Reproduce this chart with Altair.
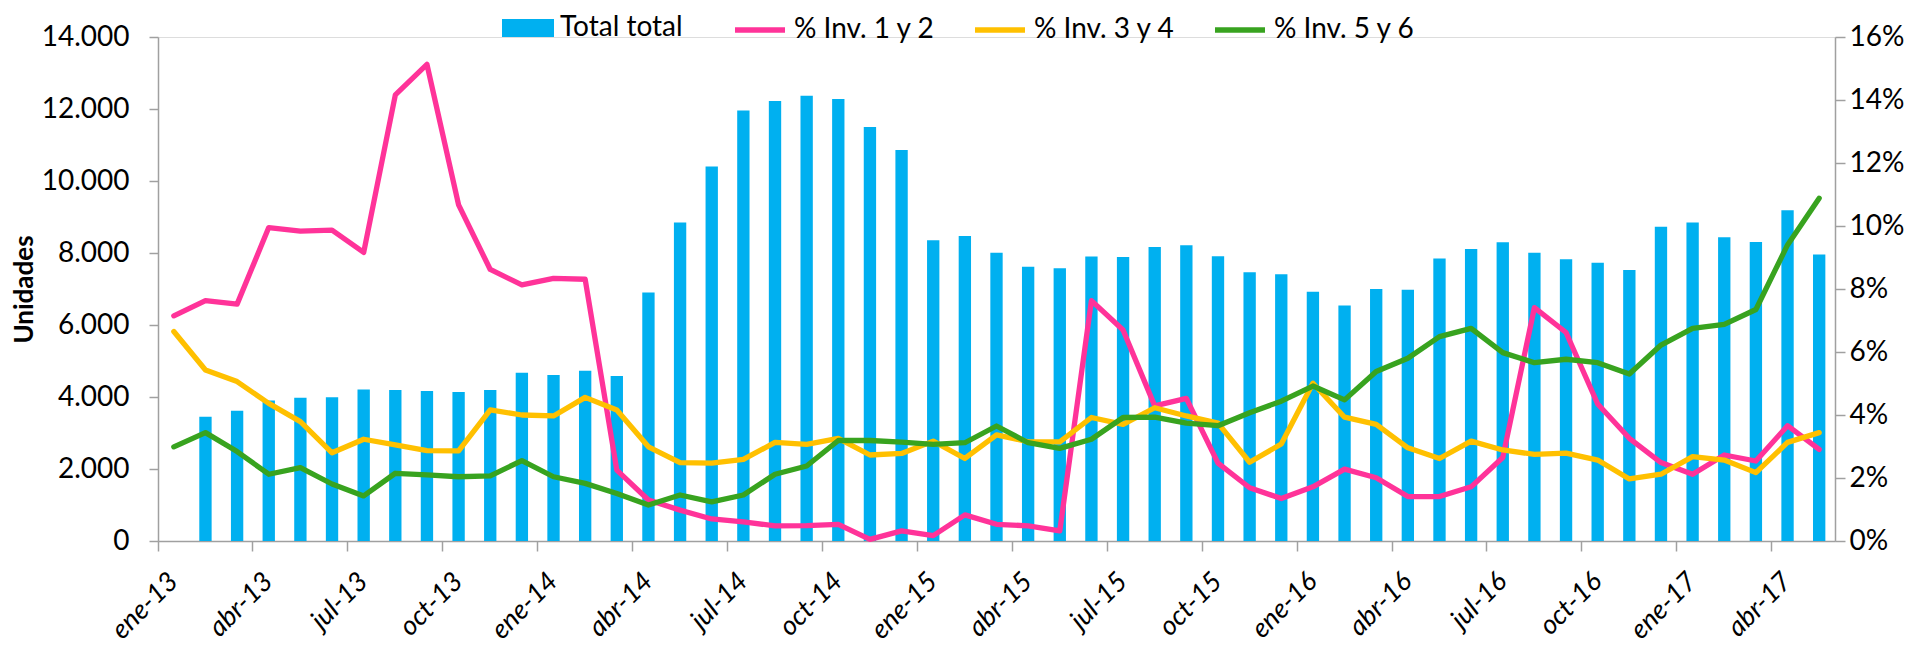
import altair as alt
import pandas as pd

abrev = ["ene", "feb", "mar", "abr", "may", "jun", "jul", "ago", "sep", "oct", "nov", "dic"]
anios = ["13", "14", "15", "16", "17"]
meses = [f"{m}-{a}" for a in anios for m in abrev][:53]  # ene-13 ... may-17

total = [None, 3450, 3620, 3900, 3980, 3990, 4210, 4195, 4165, 4140, 4195, 4675, 4610,
         4730, 4585, 6900, 8845, 10400, 11955, 12220, 12370, 12280, 11500, 10860, 8355,
         8475, 8010, 7620, 7575, 7900, 7890, 8165, 8215, 7910, 7465, 7410, 6925, 6540,
         7000, 6980, 7845, 8110, 8300, 8010, 7825, 7730, 7530, 8730, 8845, 8435, 8305,
         9185, 7955]

inv12 = [7.15, 7.63, 7.52, 9.95, 9.84, 9.87, 9.16, 14.16, 15.13, 10.67, 8.62, 8.13, 8.34,
         8.31, 2.25, 1.30, 0.98, 0.70, 0.61, 0.48, 0.49, 0.53, 0.05, 0.32, 0.17, 0.83,
         0.53, 0.48, 0.32, 7.63, 6.70, 4.29, 4.53, 2.47, 1.69, 1.35, 1.72, 2.28, 2.01,
         1.41, 1.41, 1.72, 2.65, 7.41, 6.62, 4.35, 3.26, 2.49, 2.12, 2.73, 2.54, 3.66, 2.91]

inv34 = [6.65, 5.43, 5.06, 4.37, 3.79, 2.80, 3.23, 3.05, 2.87, 2.86, 4.16, 4.00, 3.97,
         4.56, 4.16, 2.99, 2.49, 2.47, 2.59, 3.13, 3.07, 3.26, 2.73, 2.78, 3.17, 2.62,
         3.37, 3.15, 3.15, 3.92, 3.70, 4.23, 3.97, 3.74, 2.50, 3.08, 5.01, 3.93, 3.70,
         2.96, 2.62, 3.17, 2.89, 2.75, 2.79, 2.57, 1.97, 2.12, 2.68, 2.57, 2.17, 3.13, 3.44]

inv56 = [2.99, 3.44, 2.84, 2.12, 2.33, 1.81, 1.43, 2.15, 2.10, 2.04, 2.07, 2.55, 2.04,
         1.83, 1.51, 1.14, 1.46, 1.24, 1.46, 2.12, 2.38, 3.19, 3.19, 3.14, 3.07, 3.12,
         3.65, 3.12, 2.94, 3.23, 3.92, 3.93, 3.74, 3.66, 4.07, 4.44, 4.92, 4.48, 5.38,
         5.80, 6.49, 6.75, 5.98, 5.66, 5.77, 5.66, 5.30, 6.22, 6.75, 6.88, 7.35, 9.40, 10.88]

series = ["% Inv. 1 y 2", "% Inv. 3 y 4", "% Inv. 5 y 6"]
colores = ["#FF3399", "#FFC000", "#38A31F"]
color_barra = "#00B0F0"
ticks_x = meses[::3]

df_bar = pd.DataFrame({"mes": meses, "total": total, "serie": "Total total"}).dropna()
rows = []
for nombre, vals in zip(series, [inv12, inv34, inv56]):
    for i, (m, v) in enumerate(zip(meses, vals)):
        rows.append({"mes": m, "idx": i, "valor": v, "serie": nombre})
df_lines = pd.DataFrame(rows)

GREY = "#A0A0A0"
FONT = "Lato"

x_enc = alt.X(
    "mes:O",
    sort=meses,
    scale=alt.Scale(domain=meses, paddingInner=0, paddingOuter=0),
    axis=alt.Axis(
        values=ticks_x, bandPosition=0, labelAngle=-45, labelAlign="right",
        labelBaseline="middle", labelFontStyle="italic", labelFontSize=27,
        labelPadding=26, tickSize=10, title=None, domainColor=GREY, tickColor=GREY,
        labelColor="black", labelFont=FONT, domainWidth=1.5, tickWidth=1.5, grid=False,
    ),
)

bars = alt.Chart(df_bar).mark_bar(width=alt.RelativeBandSize(0.39)).encode(
    x=x_enc,
    y=alt.Y(
        "total:Q",
        scale=alt.Scale(domain=[0, 14000], nice=False),
        axis=alt.Axis(
            values=list(range(0, 14001, 2000)),
            labelExpr="replace(format(datum.value, ','), ',', '.')",
            labelFontSize=28, labelPadding=20, tickSize=9, domainColor=GREY,
            tickColor=GREY, labelColor="black", title="Unidades", titleFontSize=26,
            titleFontWeight="bold", titleX=-134, titleY=252, titleAlign="center",
            titleBaseline="middle", titleColor="black",
            labelFont=FONT, titleFont=FONT, domainWidth=1.5, tickWidth=1.5, grid=False,
        ),
    ),
    fill=alt.Fill(
        "serie:N",
        scale=alt.Scale(domain=["Total total"], range=[color_barra]),
        legend=alt.Legend(
            orient="none", legendX=344, legendY=-35, title=None,
            symbolType="M-1,-0.346H1V0.346H-1Z", symbolSize=2704,
            symbolStrokeWidth=0, labelFontSize=28, labelOffset=6, labelFont=FONT,
            labelColor="black",
        ),
    ),
)

lines = alt.Chart(df_lines).mark_line(strokeWidth=5.3, strokeCap="round", strokeJoin="round").encode(
    x=x_enc,
    y=alt.Y(
        "valor:Q",
        scale=alt.Scale(domain=[0, 16], nice=False),
        axis=alt.Axis(
            orient="right", values=list(range(0, 17, 2)),
            labelExpr="datum.value + '%'", labelFontSize=28, labelPadding=4,
            tickSize=10, domainColor=GREY, tickColor=GREY, labelColor="black",
            title=None, labelFont=FONT, domainWidth=1.5, tickWidth=1.5, grid=False,
        ),
    ),
    stroke=alt.Stroke(
        "serie:N",
        scale=alt.Scale(domain=series, range=colores),
        legend=alt.Legend(
            orient="none", legendX=574, legendY=-35, title=None, direction="horizontal",
            symbolType="stroke", symbolSize=2500, symbolStrokeWidth=5.3,
            gridAlign="all", columnPadding=28, labelFontSize=28, labelOffset=6,
            labelFont=FONT, labelColor="black",
        ),
    ),
    order=alt.Order("idx:Q"),
)

chart = (
    alt.layer(bars, lines)
    .resolve_scale(y="independent")
    .properties(
        width=1677, height=504,
        padding={"left": 150, "top": 29, "right": 78, "bottom": 110},
        autosize=alt.AutoSizeParams(type="none"),
    )
    .configure_view(stroke=None)
    .configure_axis(grid=False)
    .configure(font=FONT)
)

chart.save("out.html", embed_options={"renderer": "svg", "actions": False})
